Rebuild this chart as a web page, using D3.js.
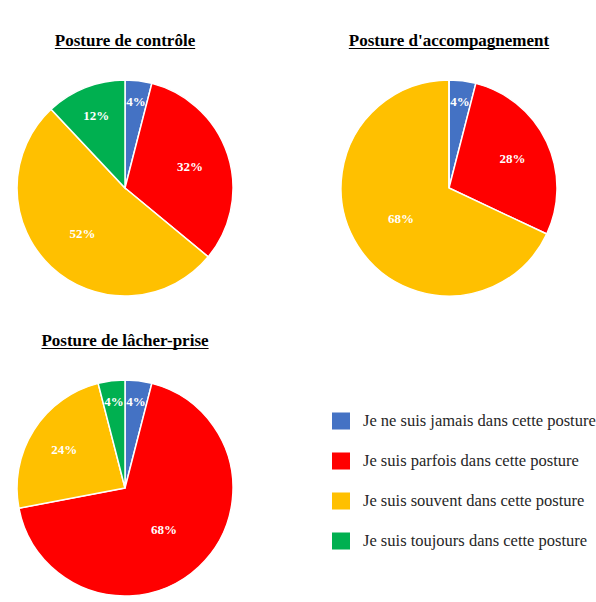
<!DOCTYPE html>
<html>
<head>
<meta charset="utf-8">
<script src="https://cdn.jsdelivr.net/npm/d3@7"></script>
<style>
  body { margin: 0; background: #fff; }
  svg { display: block; }
</style>
</head>
<body>
<div id="chart"></div>
<script>
// categories (legend order = slice order, clockwise from 12 o'clock)
const categories = [
	"Je ne suis jamais dans cette posture",
	"Je suis parfois dans cette posture",
	"Je suis souvent dans cette posture",
	"Je suis toujours dans cette posture"
];
const colors = ["#4472C4", "#FF0000", "#FFC000", "#00B050"];

// one series per posture, percentages
const controle = [4, 32, 52, 12];
const accompagnement = [4, 28, 68, 0];
const lacherPrise = [4, 68, 24, 4];

const titles = ["Posture de contrôle", "Posture d'accompagnement", "Posture de lâcher-prise"];

const width = 596, height = 602;
const radius = 108;

// pie centres in the grid
const panels = [
	{ title: titles[0], values: controle,       cx: 125, cy: 188 },
	{ title: titles[1], values: accompagnement, cx: 449, cy: 188 },
	{ title: titles[2], values: lacherPrise,    cx: 125, cy: 488 }
];

const svg = d3.select("#chart")
	.append("svg")
	.attr("width", width)
	.attr("height", height);

const color = d3.scaleOrdinal()
	.domain(categories)
	.range(colors);

const pie = d3.pie()
	.sort(null)
	.value(d => d.value);

const arc = d3.arc()
	.innerRadius(0)
	.outerRadius(radius);

// Excel-ish label placement: small slices near the rim, big ones nearer the middle
const labelR = d3.scaleLinear()
	.domain([0, 12, 30, 70])
	.range([0.85, 0.72, 0.64, 0.52])
	.clamp(true);

panels.forEach(p => {
	const data = categories.map((c, i) => ({ cat: c, value: p.values[i] }));
	const g = svg.append("g")
		.attr("transform", `translate(${p.cx},${p.cy})`);

	// title, bold + underlined
	const t = svg.append("text")
		.attr("x", p.cx)
		.attr("y", p.cy - 142)
		.attr("text-anchor", "middle")
		.style("font-family", "'Liberation Serif', 'Times New Roman', serif")
		.style("font-size", "17px")
		.style("font-weight", "bold")
		.style("fill", "#000")
		.text(p.title);
	const tw = t.node().getComputedTextLength();
	svg.append("line")
		.attr("x1", p.cx - tw / 2)
		.attr("x2", p.cx + tw / 2)
		.attr("y1", p.cy - 139.5)
		.attr("y2", p.cy - 139.5)
		.style("stroke", "#000")
		.style("stroke-width", 1.2);

	const arcs = pie(data);

	g.selectAll("path")
		.data(arcs)
		.enter()
		.append("path")
		.attr("d", arc)
		.attr("fill", d => color(d.data.cat))
		.attr("stroke", "#fff")
		.attr("stroke-width", 1.5);

	g.selectAll("text")
		.data(arcs.filter(d => d.data.value > 0))
		.enter()
		.append("text")
		.attr("transform", d => {
			const r = radius * labelR(d.data.value);
			const la = d3.arc().innerRadius(r).outerRadius(r);
			return `translate(${la.centroid(d)})`;
		})
		.attr("text-anchor", "middle")
		.attr("dy", "0.35em")
		.style("font-family", "'Liberation Serif', 'Times New Roman', serif")
		.style("font-size", "13px")
		.style("font-weight", "bold")
		.style("fill", "#fff")
		.text(d => d.data.value + "%");
});

// legend
const legendY = d3.scaleBand()
	.domain(categories)
	.range([401, 561]);

const legend = svg.append("g")
	.selectAll("g")
	.data(categories)
	.enter()
	.append("g")
	.attr("transform", d => `translate(332,${legendY(d)})`);

legend.append("rect")
	.attr("x", 0)
	.attr("y", legendY.bandwidth() / 2 - 8.5)
	.attr("width", 18)
	.attr("height", 17)
	.attr("fill", d => color(d));

legend.append("text")
	.attr("x", 31)
	.attr("y", legendY.bandwidth() / 2)
	.attr("dy", "0.33em")
	.style("font-family", "'Liberation Serif', 'Times New Roman', serif")
	.style("font-size", "16.5px")
	.style("fill", "#262626")
	.text(d => d);
</script>
</body>
</html>
